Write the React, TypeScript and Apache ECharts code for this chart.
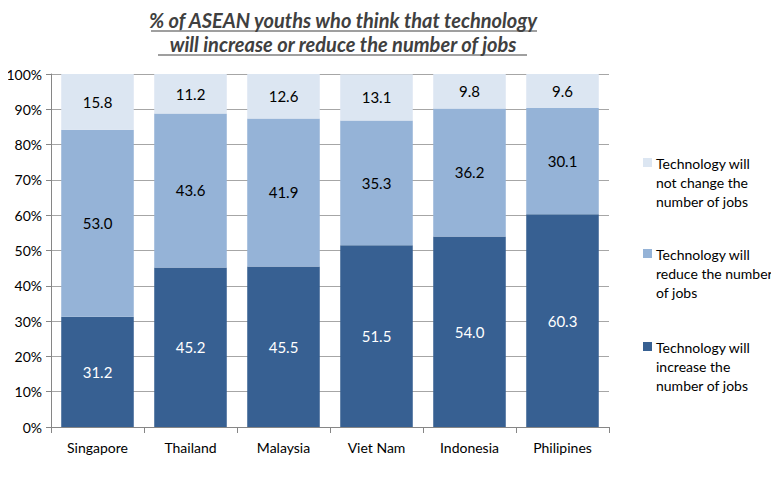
import React, { useEffect, useRef } from "react";
import * as echarts from "echarts";

const categories = ["Singapore", "Thailand", "Malaysia", "Viet Nam", "Indonesia", "Philipines"];
const increaseValues = [31.2, 45.2, 45.5, 51.5, 54.0, 60.3];
const reduceValues = [53.0, 43.6, 41.9, 35.3, 36.2, 30.1];
const noChangeValues = [15.8, 11.2, 12.6, 13.1, 9.8, 9.6];
const seriesNames = [
  "Technology will\nincrease the\nnumber of jobs",
  "Technology will\nreduce the number\nof jobs",
  "Technology will\nnot change the\nnumber of jobs",
];
const titleLines = [
  "% of ASEAN youths who think that technology",
  "will increase or reduce the number of jobs",
];

const FONT = "Lato, 'Liberation Sans', sans-serif";
const colors = ["#376092", "#95B3D7", "#DCE6F2"];

export default function App() {
  const ref = useRef<HTMLDivElement>(null);
  useEffect(() => {
    if (!ref.current) return;
    const chart = echarts.init(ref.current, null, { renderer: "svg" });
    const mk = (name: string, data: number[], color: string, labelColor: string) => ({
      name,
      type: "bar",
      stack: "total",
      data,
      barCategoryGap: "22%",
      itemStyle: { color },
      label: {
        show: true,
        position: "inside",
        color: labelColor,
        fontFamily: FONT,
        fontSize: 15,
        formatter: (p: any) => Number(p.value).toFixed(1),
      },
    });
    const legendTops = [154, 245, 338];
    const legendOrder = [2, 1, 0];
    const legendGraphics: any[] = [];
    legendOrder.forEach((si, i) => {
      legendGraphics.push({
        type: "rect",
        x: 643,
        y: legendTops[i] + 4,
        shape: { x: 0, y: 0, width: 9, height: 9 },
        style: { fill: colors[si] },
      });
      legendGraphics.push({
        type: "text",
        x: 656,
        y: legendTops[i],
        style: {
          text: seriesNames[si],
          font: `14px ${FONT}`,
          lineHeight: 19,
          fill: "#000",
        },
      });
    });
    chart.setOption({
      animation: false,
      grid: { left: 51, right: 170, top: 74, bottom: 50 },
      xAxis: {
        type: "category",
        data: categories,
        axisLine: { lineStyle: { color: "#868686" } },
        axisTick: { show: true, length: 6, lineStyle: { color: "#868686" } },
        axisLabel: { color: "#000", fontFamily: FONT, fontSize: 14, margin: 13 },
      },
      yAxis: {
        type: "value",
        min: 0,
        max: 100,
        interval: 10,
        axisLine: { show: true, lineStyle: { color: "#868686" } },
        axisTick: { show: true, length: 5, lineStyle: { color: "#868686" } },
        splitLine: { lineStyle: { color: "#A6A6A6" } },
        axisLabel: {
          color: "#000",
          fontFamily: FONT,
          fontSize: 14,
          margin: 9,
          formatter: "{value}%",
        },
      },
      series: [
        mk(seriesNames[0], increaseValues, colors[0], "#fff"),
        mk(seriesNames[1], reduceValues, colors[1], "#000"),
        mk(seriesNames[2], noChangeValues, colors[2], "#000"),
      ],
      graphic: [
        {
          type: "text",
          x: 343,
          y: 8,
          style: {
            text: titleLines.join("\n"),
            font: `italic bold 20px ${FONT}`,
            lineHeight: 24,
            align: "center",
            fill: "#404040",
          },
        },
        { type: "line", shape: { x1: 151, y1: 31, x2: 537, y2: 31 }, style: { stroke: "#404040", lineWidth: 1.2 } },
        { type: "line", shape: { x1: 158, y1: 55, x2: 527, y2: 55 }, style: { stroke: "#404040", lineWidth: 1.2 } },
        ...legendGraphics,
      ],
    });
    return () => chart.dispose();
  }, []);
  return <div ref={ref} style={{ width: 779, height: 477, margin: -8 }} />;
}
